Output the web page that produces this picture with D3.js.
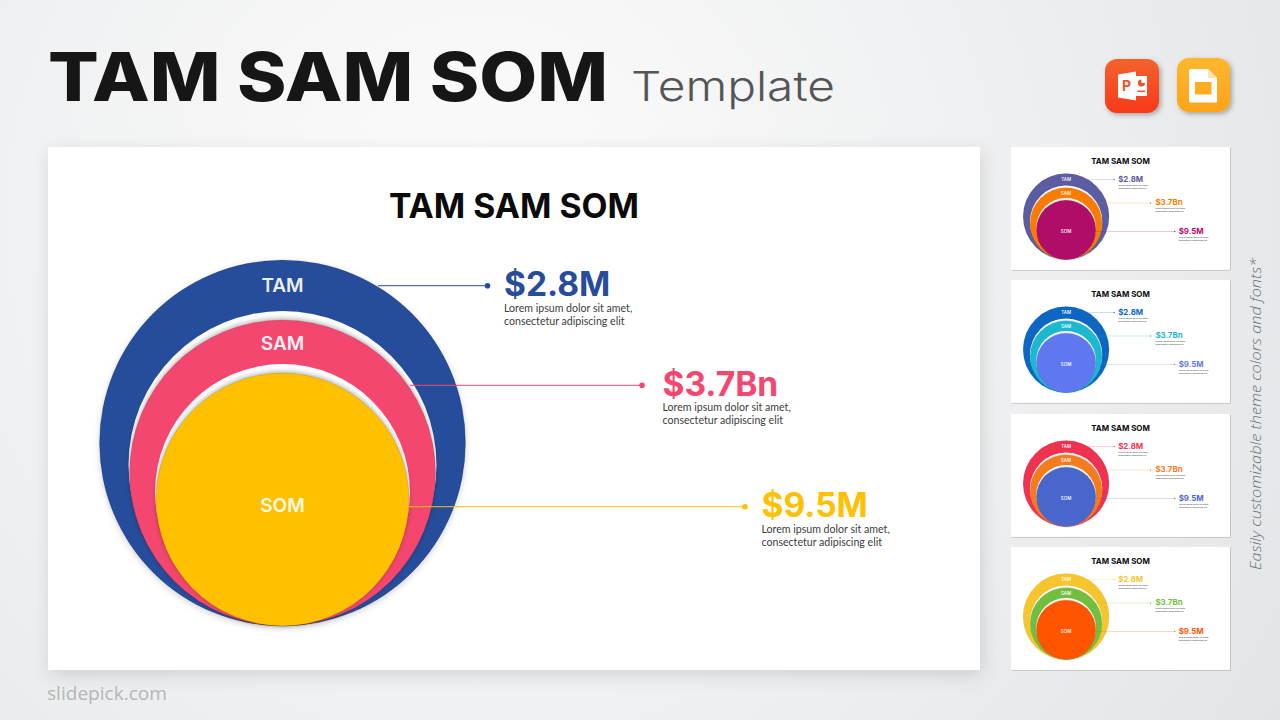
<!DOCTYPE html>
<html>
<head>
<meta charset="utf-8">
<title>TAM SAM SOM Template</title>
<script src="https://cdn.jsdelivr.net/npm/d3@7"></script>
<style>
    html, body { margin: 0; padding: 0; background: #eceeef; }
    svg { display: block; }
    text { font-family: "Inter", sans-serif; }
</style>
</head>
<body>
<svg id="chart" width="1280" height="720"></svg>
<script>
    "use strict";

    // What the picture says
    var markets = ["TAM", "SAM", "SOM"];
    var marketValues = ["$2.8M", "$3.7Bn", "$9.5M"];
    var marketSizes = [100, 83.6, 69.1];   // circle radius, as % of the TAM circle
    var descriptionLines = ["Lorem ipsum dolor sit amet,", "consectetur adipiscing elit"];

    // Colour themes, one per slide
    var mainColors = ["#264d9b", "#f4476f", "#ffc000"];
    var thumbColors = [
        ["#5b5ba0", "#f97c00", "#b00a68"],
        ["#0a66c2", "#1fb8d0", "#5f78f0"],
        ["#ef3350", "#f57c1f", "#4a66cc"],
        ["#f6c52e", "#72bf3f", "#ff5500"]
    ];
    var thumbTops = [147, 280, 414, 547];

    var svg = d3.select("#chart");
    var defs = svg.append("defs");

    function addShadow(id, dx, dy, blur, opacity) {
        var f = defs.append("filter").attr("id", id)
            .attr("x", "-20%").attr("y", "-20%").attr("width", "140%").attr("height", "140%");
        f.append("feDropShadow").attr("dx", dx).attr("dy", dy)
            .attr("stdDeviation", blur).attr("flood-color", "#000").attr("flood-opacity", opacity);
    }
    addShadow("slideShadow", 2, 5, 9, 0.13);
    addShadow("thumbShadow", 2, 2, 2.5, 0.32);
    addShadow("ringShadow", 0, -1.5, 2.5, 0.3);
    addShadow("tamShadow", 0, 2, 3, 0.18);
    addShadow("iconShadow", 2, 2, 2.5, 0.3);

    function addGradient(id, stops) {
        var g = defs.append("linearGradient").attr("id", id)
            .attr("x1", 0).attr("y1", 0).attr("x2", 0).attr("y2", 1);
        g.selectAll("stop").data(stops).enter().append("stop")
            .attr("offset", function (d, i) { return i / (stops.length - 1); })
            .attr("stop-color", function (d) { return d; });
    }
    addGradient("pptFill", ["#f4622c", "#f8391b"]);
    addGradient("slidesFill", ["#fdb72e", "#fca41a"]);

    // Page background: soft white glow, grey towards the right
    var bg = defs.append("radialGradient").attr("id", "pageBg")
        .attr("gradientUnits", "userSpaceOnUse")
        .attr("cx", 480).attr("cy", 220).attr("r", 950);
    bg.append("stop").attr("offset", 0).attr("stop-color", "#fcfcfc");
    bg.append("stop").attr("offset", 0.5).attr("stop-color", "#f0f1f2");
    bg.append("stop").attr("offset", 1).attr("stop-color", "#e2e4e5");
    svg.append("rect").attr("width", 1280).attr("height", 720).attr("fill", "url(#pageBg)");

    // Header
    svg.append("text").attr("x", 48).attr("y", 101)
        .attr("font-size", 68).attr("font-weight", 800).attr("fill", "#161616")
        .attr("textLength", 560).attr("lengthAdjust", "spacingAndGlyphs")
        .text("TAM SAM SOM");
    svg.append("text").attr("x", 631).attr("y", 101)
        .attr("font-size", 41).attr("font-weight", 300).attr("fill", "#555")
        .attr("textLength", 204).attr("lengthAdjust", "spacingAndGlyphs")
        .text("Template");

    // One slide, in the coordinates of the full size slide (932 x 523)
    function drawSlide(root, colors, shadowId) {
        var w = 932, h = 523;
        var cx = 234.5, bottom = 479;
        var r = d3.scaleLinear().domain([0, 100]).range([0, 183]);
        var leaderStart = d3.scaleOrdinal().domain(markets).range([330, 362, 361]);
        var leaderEnd = d3.scaleOrdinal().domain(markets).range([439.5, 594, 697]);
        var labelX = d3.scaleOrdinal().domain(markets).range([456, 614.5, 713.5]);
        var rowY = d3.scaleOrdinal().domain(markets).range([138.7, 238.3, 359.7]);
        var ringLabelY = d3.scaleOrdinal().domain(markets).range([145, 203, 365]);

        root.append("rect").attr("width", w).attr("height", h).attr("fill", "#fff")
            .attr("filter", "url(#" + shadowId + ")");

        root.append("text").attr("x", 466).attr("y", 71)
            .attr("text-anchor", "middle").attr("font-size", 34).attr("font-weight", 700)
            .attr("fill", "#0b0b0b").attr("textLength", 250).attr("lengthAdjust", "spacingAndGlyphs")
            .text("TAM SAM SOM");

        var rings = root.selectAll("g.ring").data(markets).enter().append("g").attr("class", "ring");

        // white halo above the two inner circles
        rings.filter(function (d, i) { return i > 0; }).append("circle")
            .attr("cx", cx)
            .attr("cy", function (d, i) { return bottom - r(marketSizes[i + 1]) - 8; })
            .attr("r", function (d, i) { return r(marketSizes[i + 1]) + 1; })
            .attr("fill", "#fff");

        rings.append("circle")
            .attr("cx", cx)
            .attr("cy", function (d, i) { return bottom - r(marketSizes[i]); })
            .attr("r", function (d, i) { return r(marketSizes[i]); })
            .attr("fill", function (d, i) { return colors[i]; })
            .attr("stroke", "#000").attr("stroke-opacity", 0.22).attr("stroke-width", 0.6)
            .attr("filter", function (d, i) { return i === 0 ? "url(#tamShadow)" : "url(#ringShadow)"; });

        root.selectAll("text.ringLabel").data(markets).enter().append("text")
            .attr("class", "ringLabel")
            .attr("x", cx).attr("y", ringLabelY)
            .attr("text-anchor", "middle").attr("font-size", 19).attr("font-weight", 600)
            .attr("fill", "#fff").attr("fill-opacity", 0.93)
            .text(function (d) { return d; });

        var rows = root.selectAll("g.row").data(markets).enter().append("g").attr("class", "row");

        rows.append("line")
            .attr("x1", leaderStart).attr("x2", leaderEnd)
            .attr("y1", rowY).attr("y2", rowY)
            .attr("stroke", function (d, i) { return colors[i]; })
            .attr("stroke-opacity", 0.8).attr("stroke-width", 1.2);
        rows.append("circle")
            .attr("cx", leaderEnd).attr("cy", rowY).attr("r", 2.8)
            .attr("fill", function (d, i) { return colors[i]; });
        rows.append("text")
            .attr("x", labelX)
            .attr("y", function (d) { return rowY(d) + 10.5; })
            .attr("font-size", 33.5).attr("font-weight", 700)
            .attr("fill", function (d, i) { return colors[i]; })
            .text(function (d, i) { return marketValues[i]; });

        descriptionLines.forEach(function (line, n) {
            rows.append("text")
                .attr("x", labelX)
                .attr("y", function (d) { return rowY(d) + 26 + n * 13; })
                .style("font-family", "Lato, sans-serif")
                .attr("font-size", 10.6).attr("fill", "#3c3c3c")
                .text(line);
        });
    }

    drawSlide(svg.append("g").attr("transform", "translate(48,147)"), mainColors, "slideShadow");

    var thumbScale = 219 / 932;
    thumbTops.forEach(function (top, i) {
        drawSlide(svg.append("g").attr("transform", "translate(1011," + top + ") scale(" + thumbScale + ")"),
            thumbColors[i], "thumbShadow");
    });

    // App icons
    var ppt = svg.append("g").attr("transform", "translate(1105,59)");
    ppt.append("rect").attr("width", 54).attr("height", 54).attr("rx", 12)
        .attr("fill", "url(#pptFill)").attr("filter", "url(#iconShadow)");
    ppt.append("path").attr("d", "M31 17H42V37H31Z").attr("fill", "#fff");
    ppt.append("path").attr("d", "M13 15.500L31 12.500V41.500L13 38.500Z").attr("fill", "#fff");
    ppt.append("text").attr("x", 21.5).attr("y", 31.5).attr("text-anchor", "middle")
        .attr("font-size", 14).attr("font-weight", 700).attr("fill", "#f4512a").text("P");
    ppt.append("path").attr("d", d3.arc()({ innerRadius: 0, outerRadius: 3.6, startAngle: 1.6, endAngle: 6.2 }))
        .attr("transform", "translate(36.500,24)").attr("fill", "#f4512a");
    ppt.append("path").attr("d", "M32.500 31.500H40V33H32.500Z").attr("fill", "#f4512a");

    var slides = svg.append("g").attr("transform", "translate(1177,58)");
    slides.append("rect").attr("width", 53).attr("height", 54).attr("rx", 12)
        .attr("fill", "url(#slidesFill)").attr("filter", "url(#iconShadow)");
    slides.append("path").attr("d", "M12 12.500Q12 11 13.500 11H31L40 20V43Q40 44.500 38.500 44.500H13.500Q12 44.500 12 43Z")
        .attr("fill", "#fff");
    slides.append("path").attr("d", "M31 11L40 20H31Z").attr("fill", "#fde3b4");
    slides.append("rect").attr("x", 18).attr("y", 24).attr("width", 16.500).attr("height", 12.500)
        .attr("fill", "#fdac22");

    // Footer and side note
    svg.append("text").attr("x", 47).attr("y", 700)
        .style("font-family", "'Open Sans', sans-serif")
        .attr("font-size", 17.500).attr("fill", "#b4b6b8")
        .attr("textLength", 120).attr("lengthAdjust", "spacingAndGlyphs")
        .text("slidepick.com");
    svg.append("text")
        .attr("transform", "translate(1261,570) rotate(-90)")
        .style("font-family", "'Open Sans', sans-serif")
        .attr("font-size", 14).attr("font-style", "italic").attr("font-weight", 300).attr("fill", "#6f7173")
        .attr("textLength", 312).attr("lengthAdjust", "spacingAndGlyphs")
        .text("Easily customizable theme colors and fonts*");
</script>
</body>
</html>
